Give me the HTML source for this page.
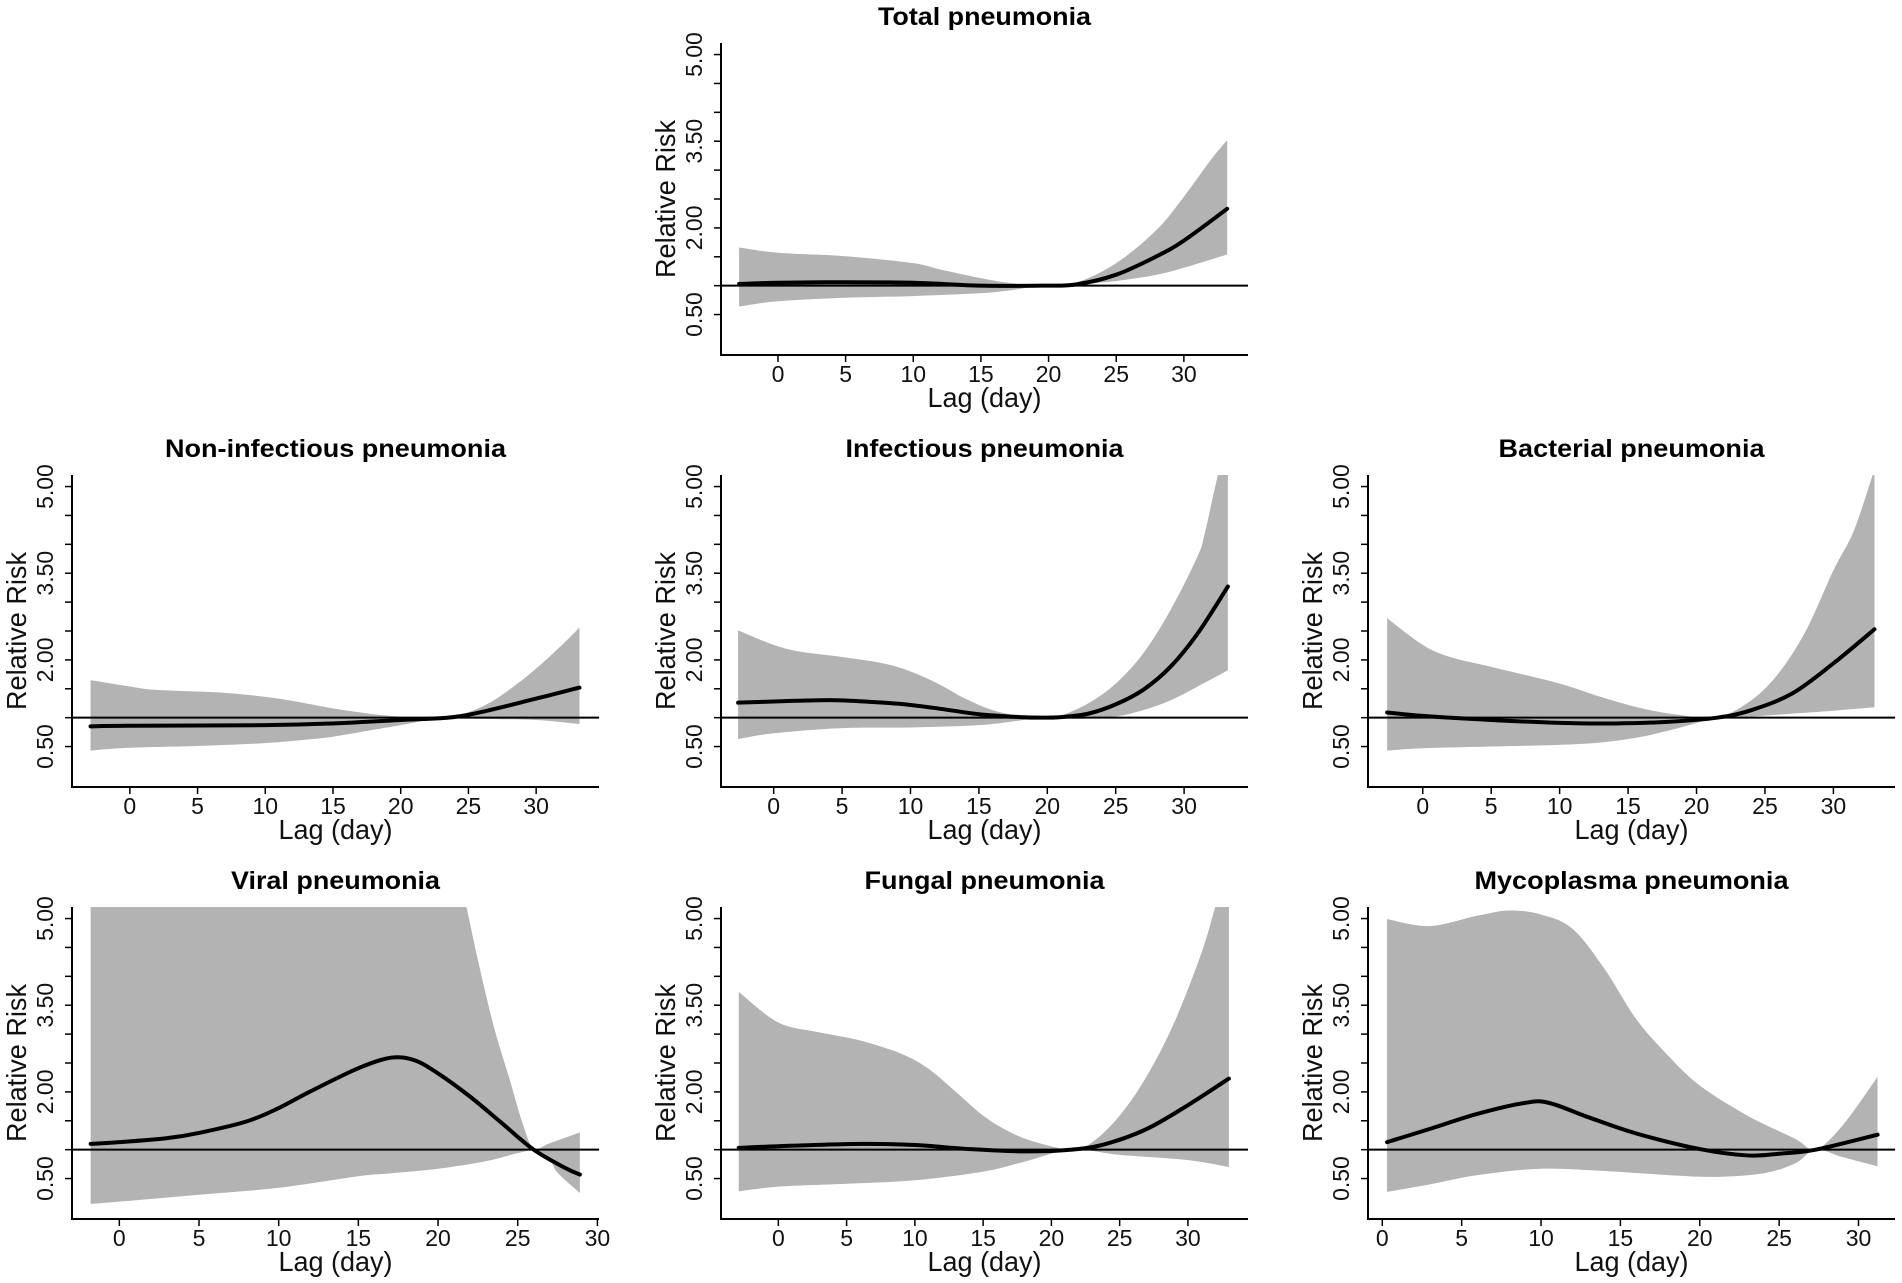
<!DOCTYPE html>
<html><head><meta charset="utf-8"><style>
html,body{margin:0;padding:0;background:#fff;}
svg{display:block;font-family:"Liberation Sans",Arial,sans-serif;}
</style></head><body>
<svg id="fig" width="1902" height="1283" viewBox="0 0 1902 1283" xmlns="http://www.w3.org/2000/svg"></svg>
<script>
// ---------- shared axis data ----------
const xTicks = [0,5,10,15,20,25,30];
const yTicks = [0.5,1,1.5,2,2.5,3,3.5,4,4.5,5];
const yTickLabels = {"0.5":"0.50","2":"2.00","3.5":"3.50","5":"5.00"};

// ---------- Total pneumonia ----------
const totalFitLag = [-2.87,0,5,10,15,19.5,22,25,28,30,33.2];
const totalFit    = [1.03,1.05,1.06,1.05,1.0,1.0,1.02,1.19,1.51,1.78,2.33];
const totalUpLag  = [-2.87,0,5,10,12,15,17,19.5,22,25,28,30,32,33.2];
const totalUp     = [1.66,1.57,1.51,1.39,1.28,1.13,1.05,1.0,1.05,1.39,1.97,2.54,3.18,3.52];
const totalLoLag  = [-2.87,0,5,10,15,17.5,19.5,22,25,28,30,33.2];
const totalLo     = [0.64,0.73,0.79,0.82,0.87,0.93,1.0,1.02,1.08,1.19,1.31,1.54];

// ---------- Non-infectious ----------
const nonFitLag = [-2.9,0,10,15,20,23.5,26,30,33.2];
const nonFit    = [0.85,0.86,0.87,0.9,0.96,1.0,1.1,1.33,1.52];
const nonUpLag  = [-2.9,0,2,7,10,12,15,18,21,23.5,26,28,30,32,33.2];
const nonUp     = [1.65,1.54,1.48,1.43,1.36,1.29,1.16,1.06,1.0,1.0,1.19,1.48,1.85,2.28,2.56];
const nonLoLag  = [-2.9,0,5,10,13,15,18,20,22,23.5,26,30,33.2];
const nonLo     = [0.43,0.48,0.51,0.56,0.62,0.67,0.79,0.87,0.96,1.0,0.98,0.96,0.89];

// ---------- Infectious ----------
const infFitLag = [-2.6,0,3,5,8,10,12,15,18,19.5,21,23,25,27,29,31,33.2];
const infFit    = [1.26,1.28,1.3,1.3,1.26,1.22,1.16,1.06,1.01,1.0,1.01,1.07,1.23,1.48,1.88,2.46,3.27];
const infUpLag  = [-2.6,0,2,5,8,10,12,14,16,18,19.5,21,23,25,27,29,31,31.5,32.4,33.2];
const infUp     = [2.51,2.26,2.14,2.05,1.94,1.8,1.59,1.33,1.13,1.03,1.0,1.04,1.25,1.59,2.11,2.86,3.8,4.18,5.13,5.9];
const infLoLag  = [-2.6,0,5,10,15,18,19.5,22,25,27,29,31,33.2];
const infLo     = [0.63,0.73,0.82,0.83,0.87,0.95,1.0,0.98,1.02,1.13,1.3,1.54,1.82];

// ---------- Bacterial ----------
const bacFitLag = [-2.6,0,5,10,14,18,21.5,24,27,30,33];
const bacFit    = [1.09,1.03,0.96,0.91,0.9,0.93,1.0,1.13,1.42,1.94,2.53];
const bacUpLag  = [-2.6,0,2,5,10,13,16,19,21.5,24,26,28,30,31.5,33];
const bacUp     = [2.72,2.26,2.05,1.88,1.59,1.36,1.16,1.04,1.0,1.3,1.77,2.51,3.55,4.24,5.3];
const bacLoLag  = [-2.6,0,5,10,13,16,19,21.5,24,27,30,33];
const bacLo     = [0.43,0.47,0.5,0.53,0.57,0.67,0.84,1.0,1.02,1.07,1.12,1.18];

// ---------- Viral ----------
const virFitLag = [-1.8,0,3,5,8,10,12,15,17,18.5,20,22,24,26,28,28.9];
const virFit    = [1.1,1.13,1.2,1.29,1.49,1.72,2.01,2.41,2.59,2.55,2.32,1.92,1.46,1.0,0.68,0.57];
const virUpLag  = [-1.8,10,20,21.6,22.5,23.5,24.5,25.3,26,27,28.9];
const virUp     = [7,7,7,5.4,4.28,3.13,2.21,1.46,1.02,1.11,1.3];
const virLoLag  = [-1.8,0,5,10,15,17,20,23,25,26,27,27.5,28.9];
const virLo     = [0.06,0.1,0.22,0.34,0.54,0.59,0.67,0.8,0.94,0.98,0.83,0.6,0.25];

// ---------- Fungal ----------
const funFitLag = [-2.9,0,6,10,14,18,21.5,24,27,30,33];
const funFit    = [1.03,1.06,1.1,1.08,1.01,0.97,1.0,1.1,1.36,1.77,2.23];
const funUpLag  = [-2.9,0,3,6,9,11,13,15,17,19,21.5,23,25,27,29,31,32,33];
const funUp     = [3.73,3.2,3.03,2.89,2.66,2.4,2.0,1.59,1.3,1.12,1.0,1.13,1.59,2.28,3.2,4.41,5.2,6.0];
const funLoLag  = [-2.9,0,5,10,15,18,21.5,25,30,33];
const funLo     = [0.28,0.36,0.41,0.47,0.62,0.79,1.0,0.91,0.82,0.7];

// ---------- Mycoplasma ----------
const mycFitLag = [0.3,3,6,9,10.5,13,16,20,23,25,27.3,31.2];
const mycFit    = [1.13,1.36,1.62,1.81,1.81,1.56,1.28,1.01,0.9,0.93,1.0,1.26];
const mycUpLag  = [0.3,3,6,8,10,12,14,16,18,20,23,26,27.3,29,31.2];
const mycUp     = [4.99,4.87,5.05,5.14,5.07,4.82,4.13,3.26,2.63,2.11,1.59,1.19,1.0,1.42,2.26];
const mycLoLag  = [0.3,3,6,10,14,18,21,24,26,27.3,29,31.2];
const mycLo     = [0.27,0.4,0.56,0.67,0.63,0.56,0.53,0.59,0.76,1.0,0.87,0.71];

const panels = [
 {name:"total", title:"Total pneumonia", tl:213, left:721, top:43, xmin:-4.21, xmax:34.74,
  fl:totalFitLag, f:totalFit, ul:totalUpLag, u:totalUp, ll:totalLoLag, l:totalLo},
 {name:"non-infectious", title:"Non-infectious pneumonia", tl:341, left:72, top:475, xmin:-4.27, xmax:34.64,
  fl:nonFitLag, f:nonFit, ul:nonUpLag, u:nonUp, ll:nonLoLag, l:nonLo},
 {name:"infectious", title:"Infectious pneumonia", tl:278, left:721, top:475, xmin:-3.85, xmax:34.67,
  fl:infFitLag, f:infFit, ul:infUpLag, u:infUp, ll:infLoLag, l:infLo},
 {name:"bacterial", title:"Bacterial pneumonia", tl:266, left:1368, top:475, xmin:-4.0, xmax:34.5,
  fl:bacFitLag, f:bacFit, ul:bacUpLag, u:bacUp, ll:bacLoLag, l:bacLo},
 {name:"viral", title:"Viral pneumonia", tl:209, left:72, top:907, xmin:-2.97, xmax:30.1,
  fl:virFitLag, f:virFit, ul:virUpLag, u:virUp, ll:virLoLag, l:virLo},
 {name:"fungal", title:"Fungal pneumonia", tl:240, left:721, top:907, xmin:-4.2, xmax:34.4,
  fl:funFitLag, f:funFit, ul:funUpLag, u:funUp, ll:funLoLag, l:funLo},
 {name:"mycoplasma", title:"Mycoplasma pneumonia", tl:314, left:1368, top:907, xmin:-0.9, xmax:32.3,
  fl:mycFitLag, f:mycFit, ul:mycUpLag, u:mycUp, ll:mycLoLag, l:mycLo}
];

const W = 527, H = 312, YMIN = -0.2, YMAX = 5.2;
const NS = "http://www.w3.org/2000/svg";
const svg = document.getElementById('fig');
function mk(tag, attrs, parent){ const e=document.createElementNS(NS,tag); for(const k in attrs) e.setAttribute(k,attrs[k]); parent.appendChild(e); return e; }

function smoothPath(pts){
  let d = "M"+pts[0][0].toFixed(2)+","+pts[0][1].toFixed(2);
  for(let i=0;i<pts.length-1;i++){
    const p0=pts[Math.max(0,i-1)], p1=pts[i], p2=pts[i+1], p3=pts[Math.min(pts.length-1,i+2)];
    const c1=[p1[0]+(p2[0]-p0[0])/6, p1[1]+(p2[1]-p0[1])/6];
    const c2=[p2[0]-(p3[0]-p1[0])/6, p2[1]-(p3[1]-p1[1])/6];
    d+=" C"+c1[0].toFixed(2)+","+c1[1].toFixed(2)+" "+c2[0].toFixed(2)+","+c2[1].toFixed(2)+" "+p2[0].toFixed(2)+","+p2[1].toFixed(2);
  }
  return d;
}

panels.forEach((p, idx) => {
  const X = v => p.left + (v - p.xmin)/(p.xmax - p.xmin)*W;
  const Y = v => p.top + (YMAX - v)/(YMAX - YMIN)*H;
  const g = mk('g',{},svg);
  
  

  const cp = mk('clipPath',{id:'clip'+idx},g);
  mk('rect',{x:p.left,y:p.top,width:W,height:H},cp);

  const up = p.ul.map((x,i)=>[X(x),Y(p.u[i])]);
  const lo = p.ll.map((x,i)=>[X(x),Y(p.l[i])]).reverse();
  let d = smoothPath(up);
  d += " L" + lo[0][0].toFixed(2)+","+lo[0][1].toFixed(2) + smoothPath(lo).replace(/^M[^ ]+/,'') + " Z";
  const band = mk('path',{d:d,fill:'#b3b3b3',stroke:'none','clip-path':'url(#clip'+idx+')'},g);
  
  

  const ref = mk('line',{x1:p.left,x2:p.left+W,y1:Y(1),y2:Y(1),stroke:'#000','stroke-width':2},g);
  
  

  const fit = mk('path',{d:smoothPath(p.fl.map((x,i)=>[X(x),Y(p.f[i])])),fill:'none',stroke:'#000','stroke-width':4,'stroke-linecap':'round','stroke-linejoin':'round'},g);
  
  

  const ax = mk('path',{d:`M${p.left},${p.top} L${p.left},${p.top+H} L${p.left+W},${p.top+H}`,fill:'none',stroke:'#000','stroke-width':2},g);
  
  

  xTicks.forEach(t=>{
    const x = X(t);
    mk('line',{x1:x,x2:x,y1:p.top+H,y2:p.top+H+7,stroke:'#000','stroke-width':1.5},g);
    const tx = mk('text',{x:x,y:p.top+H+27,'text-anchor':'middle','font-size':23,fill:'#111'},g);
    tx.textContent = t;
    
    
  });
  yTicks.forEach(t=>{
    const y = Y(t);
    mk('line',{x1:p.left-7,x2:p.left,y1:y,y2:y,stroke:'#000','stroke-width':1.5},g);
    const lab = yTickLabels[String(t)];
    if(lab){
      const ty = mk('text',{x:0,y:0,'text-anchor':'middle','font-size':23,fill:'#111',transform:`translate(${p.left-19},${y}) rotate(-90)`},g);
      ty.textContent = lab;
      
      
    }
  });

  const title = mk('text',{x:p.left+W/2,y:p.top-18,'text-anchor':'middle','font-size':25,'font-weight':'bold',fill:'#000',textLength:p.tl,lengthAdjust:'spacingAndGlyphs'},g);
  title.textContent = p.title;
  
  

  const xt = mk('text',{x:p.left+W/2,y:p.top+H+52,'text-anchor':'middle','font-size':28,fill:'#111',textLength:114,lengthAdjust:'spacingAndGlyphs'},g);
  xt.textContent = 'Lag (day)';
  
  

  const yt = mk('text',{x:0,y:0,'text-anchor':'middle','font-size':28,fill:'#111',textLength:158,lengthAdjust:'spacingAndGlyphs',transform:`translate(${p.left-46},${p.top+H/2}) rotate(-90)`},g);
  yt.textContent = 'Relative Risk';
  
  
});
</script>
</body></html>
